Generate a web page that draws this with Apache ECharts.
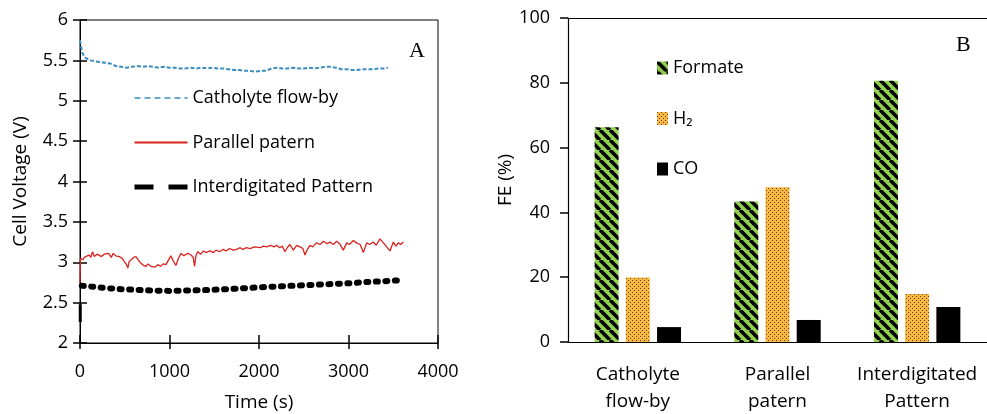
<!DOCTYPE html>
<html>
<head>
<meta charset="utf-8">
<script src="https://cdn.jsdelivr.net/npm/echarts@6/dist/echarts.min.js"></script>
<style>
  html, body { margin: 0; padding: 0; background: #fff; }
  #chart { width: 987px; height: 414px; }
</style>
</head>
<body>
<div id="chart"></div>
<script>
// panel A - cell voltage vs time
const catholyteTime = [0, 10, 25, 50, 80, 120, 160, 220, 280, 340, 400, 460, 520, 580, 640, 700, 760, 820, 880, 940, 1000, 1060, 1120, 1180, 1240, 1300, 1360, 1420, 1480, 1540, 1600, 1660, 1720, 1780, 1840, 1900, 1960, 2020, 2080, 2140, 2200, 2260, 2320, 2380, 2440, 2500, 2560, 2620, 2680, 2740, 2800, 2860, 2920, 2980, 3040, 3100, 3160, 3220, 3280, 3340, 3400, 3440]
const catholyteVoltage = [5.75, 5.68, 5.6, 5.54, 5.52, 5.5, 5.49, 5.48, 5.47, 5.46, 5.43, 5.42, 5.41, 5.42, 5.43, 5.42, 5.43, 5.42, 5.41, 5.42, 5.41, 5.41, 5.40, 5.40, 5.41, 5.40, 5.41, 5.40, 5.41, 5.40, 5.40, 5.39, 5.38, 5.38, 5.37, 5.37, 5.36, 5.37, 5.37, 5.40, 5.41, 5.40, 5.40, 5.41, 5.40, 5.40, 5.41, 5.40, 5.41, 5.42, 5.42, 5.41, 5.39, 5.39, 5.38, 5.38, 5.39, 5.39, 5.39, 5.40, 5.40, 5.41]

const parallelTime = [0, 5, 30, 50, 70, 100, 120, 140, 160, 190, 210, 240, 270, 290, 320, 350, 370, 400, 440, 470, 500, 520, 535, 550, 570, 600, 625, 650, 680, 710, 737, 760, 790, 812, 840, 870, 900, 930, 960, 990, 1015, 1040, 1072, 1100, 1130, 1160, 1203, 1240, 1265, 1280, 1295, 1315, 1350, 1380, 1408, 1450, 1490, 1520, 1560, 1600, 1632, 1670, 1710, 1750, 1790, 1818, 1860, 1900, 1950, 2011, 2050, 2085, 2130, 2170, 2197, 2230, 2260, 2290, 2315, 2346, 2383, 2420, 2458, 2490, 2514, 2540, 2570, 2600, 2640, 2682, 2720, 2760, 2793, 2830, 2868, 2900, 2942, 2980, 3010, 3054, 3090, 3130, 3166, 3203, 3240, 3277, 3310, 3352, 3390, 3426, 3463, 3501, 3530, 3556, 3585, 3612]
const parallelVoltage = [2.75, 3.05, 3.03, 3.06, 3.04, 3.09, 3.06, 3.13, 3.07, 3.10, 3.11, 3.07, 3.10, 3.08, 3.11, 3.06, 3.11, 3.08, 3.07, 3.05, 3.00, 2.97, 2.93, 3.01, 3.03, 3.06, 3.07, 3.03, 2.99, 2.96, 2.95, 2.98, 2.95, 2.97, 2.94, 2.97, 2.95, 2.98, 2.97, 3.03, 3.08, 3.02, 2.96, 3.05, 3.11, 3.08, 3.11, 3.09, 3.06, 2.95, 3.08, 3.13, 3.10, 3.14, 3.12, 3.14, 3.12, 3.15, 3.13, 3.16, 3.14, 3.17, 3.15, 3.16, 3.18, 3.16, 3.18, 3.17, 3.19, 3.18, 3.20, 3.19, 3.21, 3.19, 3.21, 3.18, 3.20, 3.13, 3.18, 3.22, 3.15, 3.21, 3.19, 3.17, 3.09, 3.16, 3.21, 3.19, 3.24, 3.22, 3.26, 3.23, 3.25, 3.22, 3.26, 3.23, 3.15, 3.24, 3.22, 3.27, 3.24, 3.22, 3.12, 3.24, 3.22, 3.25, 3.21, 3.29, 3.24, 3.19, 3.14, 3.25, 3.20, 3.24, 3.22, 3.25]

const interTime = [20, 200, 400, 600, 800, 1000, 1200, 1400, 1600, 1800, 2000, 2200, 2400, 2600, 2800, 3000, 3200, 3400, 3610]
const interVoltage = [2.71, 2.69, 2.67, 2.66, 2.65, 2.645, 2.65, 2.655, 2.665, 2.675, 2.69, 2.70, 2.71, 2.72, 2.73, 2.74, 2.755, 2.765, 2.78]
const interStartTime = [3, 3]
const interStartVoltage = [2.26, 2.48]

const timeTicks = { min: 0, max: 4000, interval: 1000 }
const voltTicks = { min: 2, max: 6, interval: 0.5 }

// panel B - faradaic efficiency
const categories = ['Catholyte\nflow-by', 'Parallel\npatern', 'Interdigitated\nPattern']
const formate = [66.3, 43.4, 80.6]
const hydrogen = [19.9, 47.8, 14.8]
const carbonMonoxide = [4.6, 6.8, 10.8]
const feTicks = { min: 0, max: 100, interval: 20 }

const zip = (xs, ys) => xs.map((x, i) => [x, ys[i]])

function stripePattern() {
  const c = document.createElement('canvas')
  c.width = c.height = 10
  const ctx = c.getContext('2d')
  ctx.fillStyle = '#92d050'
  ctx.fillRect(0, 0, 10, 10)
  ctx.strokeStyle = '#000'
  ctx.lineWidth = 3.6
  for (const off of [-10, 0, 10]) {
    ctx.beginPath()
    ctx.moveTo(off, 0)
    ctx.lineTo(off + 10, 10)
    ctx.stroke()
  }
  return c
}

function dotPattern() {
  const c = document.createElement('canvas')
  c.width = c.height = 4
  const ctx = c.getContext('2d')
  ctx.fillStyle = '#f6b843'
  ctx.fillRect(0, 0, 4, 4)
  ctx.fillStyle = '#6a4208'
  ctx.fillRect(0, 0, 1, 1)
  ctx.fillRect(2, 2, 1, 1)
  return c
}

const font = 'Open Sans'
const black = '#000'
const plain = v => String(v)

const chart = echarts.init(document.getElementById('chart'))

const option = {
  animation: false,
  textStyle: { fontFamily: font, color: black },
  title: [
    { text: 'A', left: 404, top: 35, textStyle: { fontFamily: 'Liberation Serif', fontSize: 22, fontWeight: 'normal', color: black } },
    { text: 'B', left: 951, top: 29, textStyle: { fontFamily: 'Liberation Serif', fontSize: 22, fontWeight: 'normal', color: black } }
  ],
  legend: [
    {
      orient: 'vertical',
      left: 127,
      top: 84,
      itemWidth: 53,
      itemHeight: 14,
      itemGap: 26.5,
      itemStyle: { opacity: 0 },
      textStyle: { fontSize: 18, color: black, fontFamily: font },
      data: [
        { name: 'Catholyte flow-by', lineStyle: { type: [6, 4], width: 1.5 } },
        { name: 'Parallel patern' },
        { name: 'Interdigitated Pattern', lineStyle: { type: [19, 15], width: 5, cap: 'butt' } }
      ]
    },
    {
      orient: 'vertical',
      left: 652,
      top: 54,
      itemWidth: 11,
      itemHeight: 13,
      itemGap: 32.5,
      icon: 'rect',
      textStyle: { fontSize: 18, color: black, fontFamily: font },
      data: ['Formate', 'H₂', 'CO']
    }
  ],
  grid: [
    { left: 80, top: 20, width: 358, height: 323, show: true, borderColor: black, borderWidth: 1, outerBoundsMode: 'none' },
    { left: 568, top: 18, width: 419, height: 324, outerBoundsMode: 'none' }
  ],
  xAxis: [
    {
      gridIndex: 0, type: 'value', ...timeTicks,
      name: 'Time (s)', nameLocation: 'middle', nameGap: 50,
      nameTextStyle: { fontSize: 19, color: black },
      axisLine: { show: true, lineStyle: { color: black } },
      axisTick: { show: true, length: 6, lineStyle: { color: black, width: 1.5 } },
      axisLabel: { fontSize: 18, color: black, margin: 20, formatter: plain },
      splitLine: { show: false }
    },
    {
      gridIndex: 0, type: 'value', ...timeTicks, position: 'bottom',
      axisLine: { show: false },
      axisTick: { show: true, inside: true, length: 8, lineStyle: { color: black, width: 1.5 } },
      axisLabel: { show: false },
      splitLine: { show: false }
    },
    {
      gridIndex: 1, type: 'category', data: categories,
      axisLine: { show: true, lineStyle: { color: black, width: 1.2 } },
      axisTick: { show: false },
      axisLabel: { fontSize: 19, color: black, margin: 19, lineHeight: 27, interval: 0 }
    },
    {
      gridIndex: 1, type: 'category', data: categories, position: 'top',
      axisLine: { show: true, lineStyle: { color: black, width: 1.2 } },
      axisTick: { show: false },
      axisLabel: { show: false }
    }
  ],
  yAxis: [
    {
      gridIndex: 0, type: 'value', ...voltTicks,
      name: 'Cell Voltage (V)', nameLocation: 'middle', nameGap: 50,
      nameTextStyle: { fontSize: 19, color: black },
      axisLine: { show: true, lineStyle: { color: black } },
      axisTick: { show: true, length: 7, lineStyle: { color: black, width: 1.5 } },
      axisLabel: { fontSize: 18, color: black, margin: 12 },
      splitLine: { show: false }
    },
    {
      gridIndex: 0, type: 'value', ...voltTicks, position: 'left',
      axisLine: { show: false },
      axisTick: { show: true, inside: true, length: 7, lineStyle: { color: black, width: 1.5 } },
      axisLabel: { show: false },
      splitLine: { show: false }
    },
    {
      gridIndex: 1, type: 'value', ...feTicks,
      name: 'FE (%)', nameLocation: 'middle', nameGap: 52,
      nameTextStyle: { fontSize: 19, color: black },
      axisLine: { show: true, lineStyle: { color: black, width: 1.2 } },
      axisTick: { show: true, length: 8, lineStyle: { color: black, width: 1.5 } },
      axisLabel: { fontSize: 18, color: black, margin: 18 },
      splitLine: { show: false }
    }
  ],
  series: [
    {
      name: 'Catholyte flow-by', type: 'line', xAxisIndex: 0, yAxisIndex: 0,
      data: zip(catholyteTime, catholyteVoltage), symbol: 'none',
      lineStyle: { color: '#3a8cc0', width: 2, type: [4, 2] },
      itemStyle: { color: '#3a8cc0' }
    },
    {
      name: 'Parallel patern', type: 'line', xAxisIndex: 0, yAxisIndex: 0,
      data: zip(parallelTime, parallelVoltage), symbol: 'none',
      lineStyle: { color: '#d9231f', width: 1.3 },
      itemStyle: { color: '#d9231f' }
    },
    {
      name: 'Interdigitated Pattern', type: 'line', xAxisIndex: 0, yAxisIndex: 0,
      data: zip(interTime, interVoltage), symbol: 'none',
      lineStyle: { color: black, width: 6, type: [2, 7.5], cap: 'round' },
      itemStyle: { color: black }
    },
    {
      name: 'Interdigitated start', type: 'line', xAxisIndex: 0, yAxisIndex: 0,
      data: zip(interStartTime, interStartVoltage), symbol: 'none',
      lineStyle: { color: black, width: 3 }
    },
    {
      name: 'Formate', type: 'bar', xAxisIndex: 2, yAxisIndex: 2,
      data: formate, barWidth: 24, barGap: '30%',
      itemStyle: { color: { image: stripePattern(), repeat: 'repeat' } }
    },
    {
      name: 'H₂', type: 'bar', xAxisIndex: 2, yAxisIndex: 2,
      data: hydrogen, barWidth: 24, barGap: '30%',
      itemStyle: { color: { image: dotPattern(), repeat: 'repeat' } }
    },
    {
      name: 'CO', type: 'bar', xAxisIndex: 2, yAxisIndex: 2,
      data: carbonMonoxide, barWidth: 24, barGap: '30%',
      itemStyle: { color: black }
    }
  ]
}

chart.setOption(option)
</script>
</body>
</html>
